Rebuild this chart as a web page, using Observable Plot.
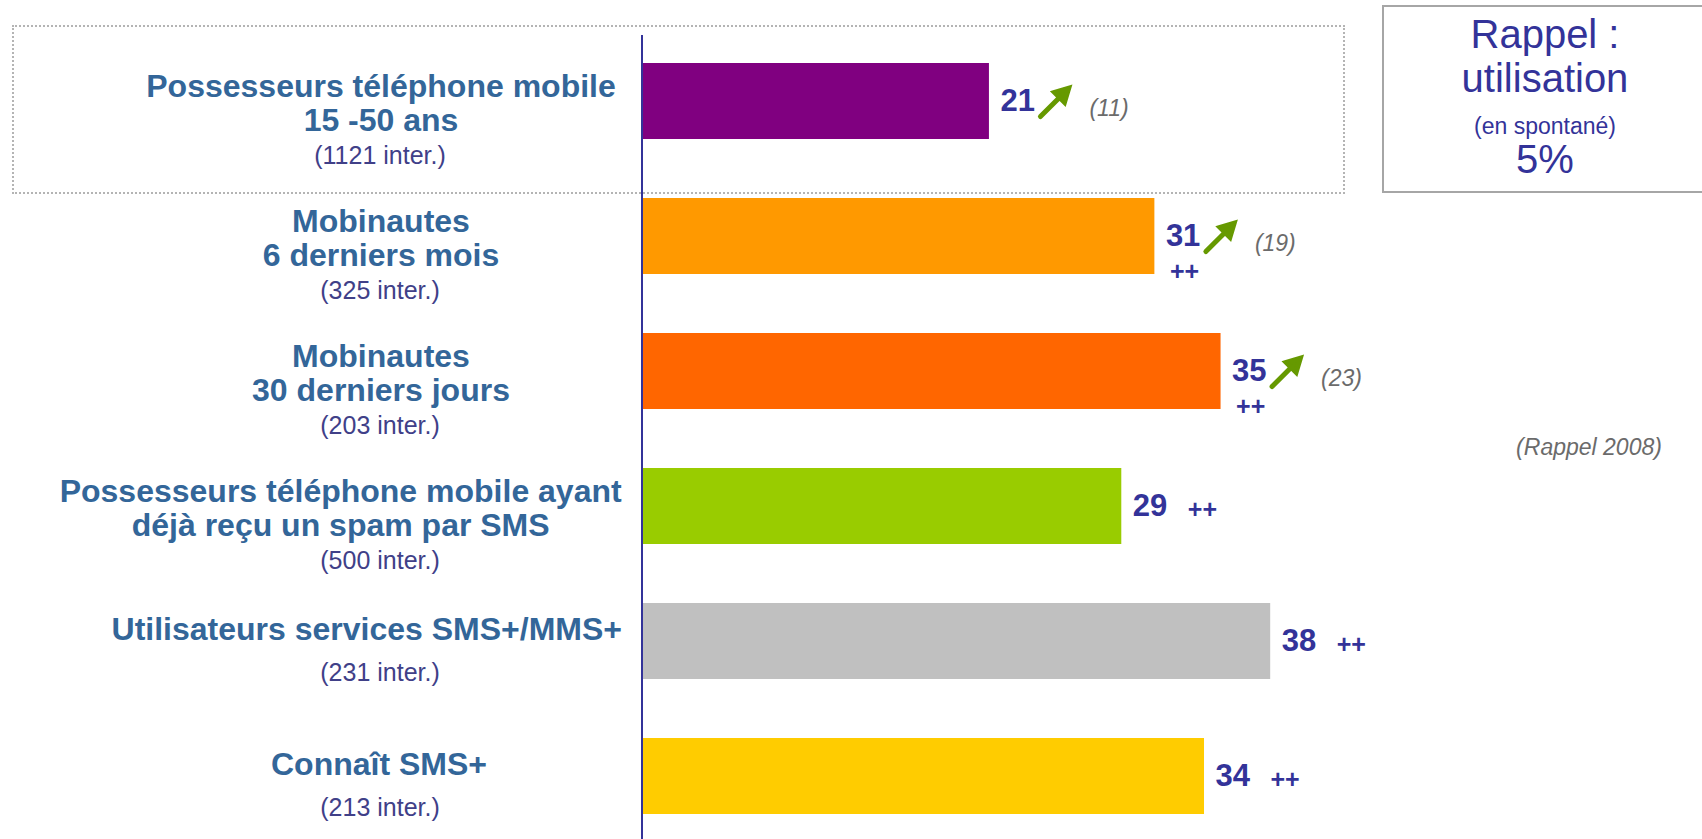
<!DOCTYPE html>
<html>
<head>
<meta charset="utf-8">
<script src="https://cdn.jsdelivr.net/npm/d3@7"></script>
<script src="https://cdn.jsdelivr.net/npm/@observablehq/plot@0.6"></script>
<style>
  html, body { margin: 0; padding: 0; background: #fff; overflow: hidden; }
  #wrap { position: relative; width: 1702px; height: 839px; font-family: "Liberation Sans", Arial, sans-serif; }
  #chart { position: absolute; left: 0; top: 0; }
  .dotbox { position: absolute; left: 12px; top: 25px; width: 1329px; height: 165px; border: 2px dotted #b4b4b4; box-sizing: content-box; pointer-events: none; }
  .rbox { position: absolute; left: 1382px; top: 5px; width: 340px; height: 188px; border: 2.5px solid #a6a6a6; box-sizing: border-box; }
  .rl { position: absolute; left: 1395px; width: 300px; text-align: center; line-height: 0.9; color: #333399; white-space: nowrap; }
  .note { position: absolute; left: 1489px; width: 200px; text-align: center; line-height: 1; color: #6b6b6b; font-style: italic; font-size: 23px; white-space: nowrap; }
</style>
</head>
<body>
<div id="wrap">
  <div id="chart"></div>
  <div class="dotbox"></div>
  <div class="rbox"></div>
  <div class="rl" style="top:12px;font-size:40px;line-height:44px;">Rappel :<br>utilisation</div>
  <div class="rl" style="top:116px;font-size:23px;">(en spontané)</div>
  <div class="rl" style="top:141px;font-size:40px;">5%</div>
  <div class="note" style="top:436px;">(Rappel 2008)</div>
</div>
<script>
// ---- data ----
const categories = [
  "Possesseurs téléphone mobile\n15 -50 ans",
  "Mobinautes\n6 derniers mois",
  "Mobinautes\n30 derniers jours",
  "Possesseurs téléphone mobile ayant\ndéjà reçu un spam par SMS",
  "Utilisateurs services SMS+/MMS+",
  "Connaît SMS+"
];
const interviews = ["(1121 inter.)", "(325 inter.)", "(203 inter.)", "(500 inter.)", "(231 inter.)", "(213 inter.)"];
const values = [21, 31, 35, 29, 38, 34];
const previous2008 = [11, 19, 23, null, null, null];
const significance = ["", "++", "++", "++", "++", "++"];
const palette = ["#800080", "#FF9900", "#FF6600", "#99CC00", "#C0C0C0", "#FFCC00"];

const data = categories.map((c, i) => ({
  cat: c, count: interviews[i], value: values[i], prev: previous2008[i], sig: significance[i]
}));

const FONT = "Liberation Sans, Arial, sans-serif";
const TITLE = "#336699", VALUE = "#333399", GREEN = "#669900";

const arrowShape = {
  draw(context, l, r) {
    const hl = 13, hw = 7;
    context.moveTo(0, 0);
    context.lineTo(0, -(l - hl));
    context.moveTo(-hw, -(l - hl));
    context.lineTo(0, -l);
    context.lineTo(hw, -(l - hl));
    context.closePath();
  }
};

function trendArrows() {
  const opts = {
    filter: d => d.prev != null, x: "value", y: "cat",
    rotate: 45, length: 40, anchor: "start", dx: 51, dy: 15,
    stroke: GREEN, strokeWidth: 5, strokeLinejoin: "miter"
  };
  try {
    return Plot.vector(data, {...opts, shape: arrowShape, fill: GREEN});
  } catch (e) {
    return Plot.vector(data, opts);
  }
}

const twoLine = d => d.cat.includes("\n");

const plot = Plot.plot({
  width: 1702,
  height: 839,
  marginLeft: 641.5,
  marginRight: 0,
  marginTop: 39,
  marginBottom: 0,
  style: { fontFamily: FONT, background: "transparent" },
  x: { domain: [0, 64.1], axis: null },
  y: { domain: categories, axis: null, paddingInner: 0.437, paddingOuter: 0.181 },
  color: { domain: categories, range: palette },
  marks: [
    Plot.barX(data, { x: "value", y: "cat", fill: "cat" }),
    Plot.ruleX([0], { stroke: "#333399", strokeWidth: 2, insetTop: -4 }),
    // category titles
    Plot.text(data, { filter: twoLine, y: "cat", text: "cat", frameAnchor: "left", dx: -261, dy: 2,
      textAnchor: "middle", lineAnchor: "middle", lineHeight: 1.05, fontSize: 32, fontWeight: "bold",
      fill: TITLE }),
    Plot.text(data, { filter: d => !twoLine(d), y: "cat", text: "cat", frameAnchor: "left", dx: -263, dy: -12,
      textAnchor: "middle", lineAnchor: "middle", fontSize: 32, fontWeight: "bold",
      fill: TITLE }),
    // interview counts
    Plot.text(data, { filter: twoLine, y: "cat", text: "count", frameAnchor: "left", dx: -262, dy: 54,
      textAnchor: "middle", fontSize: 25, fill: "#404088" }),
    Plot.text(data, { filter: d => !twoLine(d), y: "cat", text: "count", frameAnchor: "left", dx: -262, dy: 31,
      textAnchor: "middle", fontSize: 25, fill: "#404088" }),
    // value labels
    Plot.text(data, { x: "value", y: "cat", text: d => String(d.value), dx: 11, dy: 0,
      textAnchor: "start", fontSize: 31, fontWeight: "bold", fill: VALUE }),
    // significance marks
    Plot.text(data, { filter: d => d.prev != null && d.sig, x: "value", y: "cat", text: "sig", dx: 15, dy: 35,
      textAnchor: "start", fontSize: 25, fontWeight: "bold", fill: VALUE }),
    Plot.text(data, { filter: d => d.prev == null && d.sig, x: "value", y: "cat", text: "sig", dx: 66, dy: 3,
      textAnchor: "start", fontSize: 25, fontWeight: "bold", fill: VALUE }),
    // trend arrows
    trendArrows(),
    // previous values
    Plot.text(data, { filter: d => d.prev != null, x: "value", y: "cat", text: d => `(${d.prev})`, dx: 100, dy: 7,
      textAnchor: "start", fontSize: 23, fontStyle: "italic", fill: "#6b6b6b" })
  ]
});

document.getElementById("chart").appendChild(plot);

// keep the wide titles clear of the axis
const maxRight = 622;
const flatTitles = new Set(categories.map(c => c.replace(/\n/g, "")));
plot.querySelectorAll("text").forEach(t => {
  if (!flatTitles.has(t.textContent)) return;
  const right = t.getBoundingClientRect().right;
  if (right > maxRight) {
    const tr = t.getAttribute("transform") || "";
    t.setAttribute("transform", tr + ` translate(${maxRight - right},0)`);
  }
});
</script>
</body>
</html>
